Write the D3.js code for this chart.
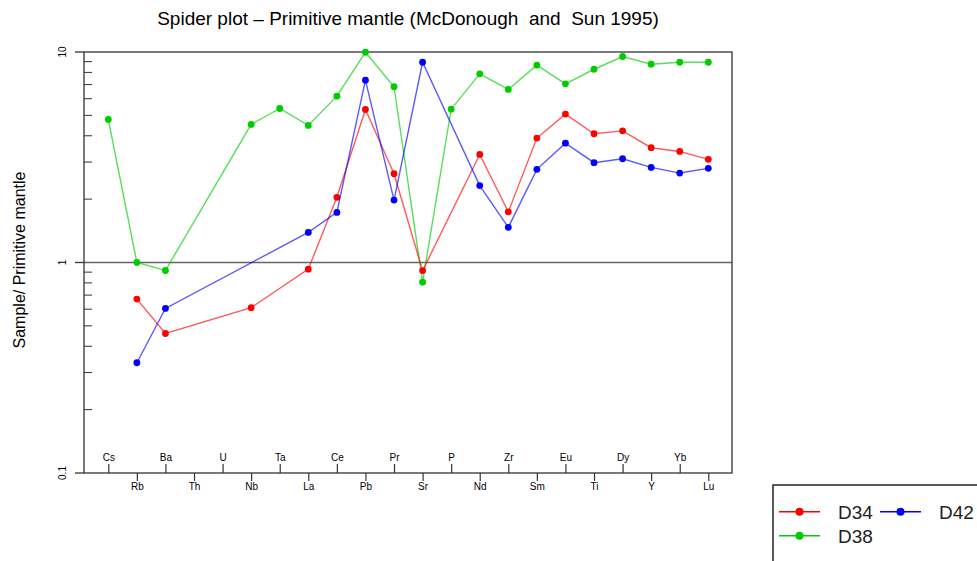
<!DOCTYPE html>
<html>
<head>
<meta charset="utf-8">
<script src="https://cdn.jsdelivr.net/npm/d3@7"></script>
<style>
  body { margin: 0; background: #fff; }
  svg { display: block; font-family: "Liberation Sans", Arial, sans-serif; }
</style>
</head>
<body>
<div id="chart"></div>
<script>
// elements along the x axis
const elements = ["Cs", "Rb", "Ba", "Th", "U", "Nb", "Ta", "La", "Ce", "Pb", "Pr",
	"Sr", "P", "Nd", "Zr", "Sm", "Eu", "Ti", "Dy", "Y", "Yb", "Lu"];

// normalised values, null = not measured
const d34 = [null, 0.67, 0.46, null, null, 0.61, null, 0.93, 2.04, 5.33, 2.64,
	0.915, null, 3.26, 1.74, 3.90, 5.07, 4.09, 4.22, 3.51, 3.37, 3.09];
const d38 = [4.78, 1.0, 0.916, null, null, 4.53, 5.39, 4.48, 6.17, 9.97, 6.84,
	0.806, 5.35, 7.88, 6.64, 8.66, 7.06, 8.28, 9.52, 8.75, 8.94, 8.94];
const d42 = [null, 0.334, 0.605, null, null, null, null, 1.39, 1.73, 7.35, 1.98,
	8.94, null, 2.32, 1.47, 2.77, 3.69, 2.98, 3.11, 2.83, 2.66, 2.80];

const seriesNames = ["D34", "D38", "D42"];
const seriesColors = ["#ff0000", "#00cd00", "#0000ff"];
const yMajor = [0.1, 1, 10];
const yMinor = [0.2, 0.3, 0.4, 0.5, 0.6, 0.7, 0.8, 0.9, 2, 3, 4, 5, 6, 7, 8, 9];

window.onload = function () {
	var width = 977, height = 561;
	var left = 84, right = 732, top = 52, bottom = 473;

	var svg = d3.select("#chart").append("svg")
		.attr("width", width).attr("height", height);

	var x = d3.scalePoint().domain(elements).range([108.3, 708.3]);
	var y = d3.scaleLog().domain([0.1, 10]).range([bottom, top]);

	// title
	svg.append("text")
		.attr("x", 408).attr("y", 25)
		.attr("text-anchor", "middle")
		.attr("xml:space", "preserve")
		.style("font-size", "19px")
		.text("Spider plot \u2013 Primitive mantle (McDonough  and  Sun 1995)");

	// y label
	svg.append("text")
		.attr("transform", "translate(25,260) rotate(-90)")
		.attr("text-anchor", "middle")
		.style("font-size", "16px")
		.text("Sample/ Primitive mantle");

	// reference line at 1
	svg.append("line")
		.attr("x1", left).attr("x2", right)
		.attr("y1", y(1)).attr("y2", y(1))
		.attr("stroke", "#666").attr("stroke-width", 1.5);

	// frame
	svg.append("rect")
		.attr("x", left).attr("y", top)
		.attr("width", right - left).attr("height", bottom - top)
		.attr("fill", "none").attr("stroke", "#333").attr("stroke-width", 1.3);

	// y axis: major ticks outside, minor ticks inside
	var yAxis = svg.append("g");
	yAxis.selectAll(".major").data(yMajor).enter().append("line")
		.attr("x1", left - 9).attr("x2", left)
		.attr("y1", d => y(d)).attr("y2", d => y(d))
		.attr("stroke", "#333").attr("stroke-width", 1.3);
	yAxis.selectAll(".minor").data(yMinor).enter().append("line")
		.attr("x1", left).attr("x2", left + 8)
		.attr("y1", d => y(d)).attr("y2", d => y(d))
		.attr("stroke", "#333").attr("stroke-width", 1);
	yAxis.selectAll("text").data(yMajor).enter().append("text")
		.attr("transform", d => "translate(66," + y(d) + ") rotate(-90)")
		.attr("text-anchor", "middle")
		.style("font-size", "10px")
		.text(d => d);

	// x axis: alternate labels above and below the bottom line
	var even = elements.filter((d, i) => i % 2 === 0);
	var odd = elements.filter((d, i) => i % 2 === 1);

	var axTop = svg.append("g")
		.attr("transform", "translate(0," + bottom + ")")
		.call(d3.axisTop(x).tickValues(even).tickSize(9).tickPadding(3));
	var axBot = svg.append("g")
		.attr("transform", "translate(0," + bottom + ")")
		.call(d3.axisBottom(x).tickValues(odd).tickSize(8).tickPadding(2));
	[axTop, axBot].forEach(function (g) {
		g.select(".domain").remove();
		g.selectAll("line").attr("stroke", "#333").attr("stroke-width", 1.2);
		g.selectAll("text").style("font-size", "10px")
			.style("font-family", "'Liberation Sans', Arial, sans-serif").attr("fill", "#000");
	});

	// series
	var all = [d34, d38, d42];
	var order = [1, 0, 2];
	order.forEach(function (k) {
		var pts = all[k].map((v, i) => ({ e: elements[i], v: v })).filter(p => p.v != null);
		var line = d3.line().x(p => x(p.e)).y(p => y(p.v));
		svg.append("path")
			.datum(pts)
			.attr("d", line)
			.attr("fill", "none")
			.attr("stroke", seriesColors[k])
			.attr("stroke-opacity", 0.65)
			.attr("stroke-width", 1.4);
		svg.append("g").selectAll("circle").data(pts).enter().append("circle")
			.attr("cx", p => x(p.e)).attr("cy", p => y(p.v))
			.attr("r", 3.4)
			.attr("fill", seriesColors[k]);
	});

	// legend
	var lg = svg.append("g");
	lg.append("rect")
		.attr("x", 773).attr("y", 485)
		.attr("width", 220).attr("height", 100)
		.attr("fill", "#fff").attr("stroke", "#222").attr("stroke-width", 1.5);
	var items = [
		{ k: 0, lx: 779, ty: 511.7 },
		{ k: 2, lx: 880, ty: 511.7 },
		{ k: 1, lx: 779, ty: 535.7 }
	];
	items.forEach(function (it) {
		lg.append("line")
			.attr("x1", it.lx).attr("x2", it.lx + 41)
			.attr("y1", it.ty).attr("y2", it.ty)
			.attr("stroke", seriesColors[it.k]).attr("stroke-width", 1.5);
		lg.append("circle")
			.attr("cx", it.lx + 20.5).attr("cy", it.ty).attr("r", 4)
			.attr("fill", seriesColors[it.k]);
		lg.append("text")
			.attr("x", it.lx + 59).attr("y", it.ty + 7)
			.style("font-size", "19px")
			.attr("fill", "#222")
			.text(seriesNames[it.k]);
	});
}
</script>
</body>
</html>
